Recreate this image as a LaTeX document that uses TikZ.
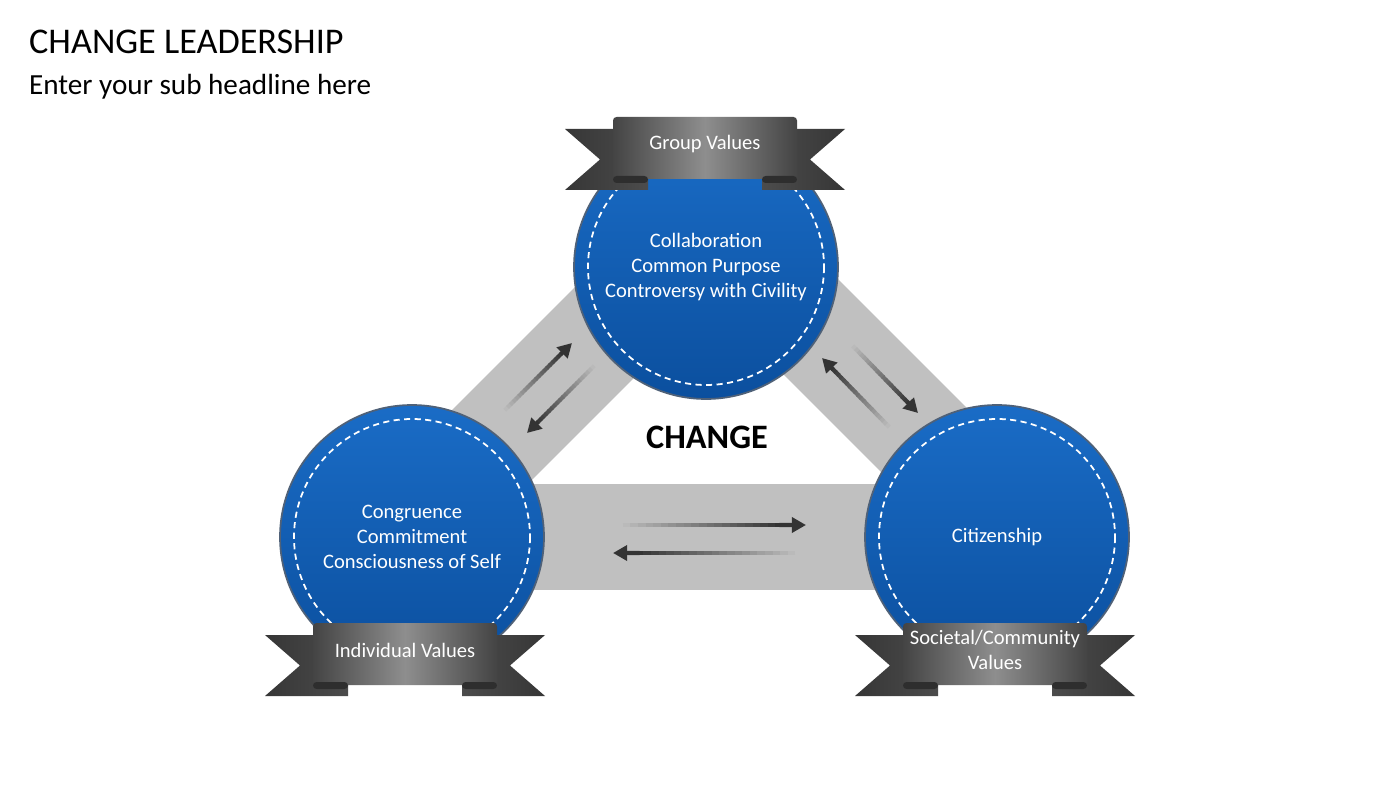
\documentclass[tikz,border=0pt]{standalone}
\usepackage{fontspec}
\setmainfont{Carlito}
\usetikzlibrary{arrows.meta,calc,positioning}

\definecolor{bandgray}{HTML}{C0C0C0}
\definecolor{disctop}{HTML}{1A6CC6}
\definecolor{discbot}{HTML}{0B4F9E}
\definecolor{discedge}{HTML}{4F6178}
\definecolor{ribbonedge}{HTML}{444444}
\definecolor{ribbonmid}{HTML}{8E8E8E}
\definecolor{wingdark}{HTML}{363636}
\definecolor{wingmid}{HTML}{4C4C4C}
\definecolor{folddark}{HTML}{2E2E2E}
\definecolor{arrowdark}{HTML}{333333}

\tikzset{
  bandline/.style={bandgray, line width=2.12cm},
  disc/.style={circle, minimum size=5.28cm, inner sep=0pt, top color=disctop,
    bottom color=discbot, draw=discedge, line width=1pt, text=white,
    align=center, font=\fontsize{11.7}{14.2}\selectfont},
  ring/.style={white, line width=1pt, dash pattern=on 3.5pt off 2.5pt},
  ribbontext/.style={text=white, align=center, font=\fontsize{11.7}{14}\selectfont},
  fadetip/.style={arrowdark, line width=2.4pt, -{Triangle[length=8pt,width=8.5pt]}},
}

% ribbon banner: name, x centre, y top, text
\newcommand{\ribbon}[4]{%
  \begin{scope}[shift={(#2,#3)}]
    \shade[left color=wingdark, right color=wingmid] (-140,12) -- (-57,12) -- (-57,73) -- (-140,73) -- (-105,42.5) -- cycle;
    \shade[left color=wingmid, right color=wingdark] (140,12) -- (57,12) -- (57,73) -- (140,73) -- (105,42.5) -- cycle;
    \shade[left color=ribbonedge, right color=ribbonedge, middle color=ribbonmid, rounded corners=2pt] (-92,0) rectangle (92,62);
    \fill[folddark, rounded corners=2pt] (-92,59) rectangle (-57,66);
    \fill[folddark, rounded corners=2pt] (57,59) rectangle (92,66);
    \node[ribbontext] (#1) at (0,27) {#4};
  \end{scope}}

% shaft fading into the band, solid tip
\newcommand{\fadearrow}[2]{%
  \foreach \k in {0,...,21}{%
    \pgfmathtruncatemacro{\arrtone}{100*\k/21}%
    \draw[line width=2.4pt, arrowdark!\arrtone!bandgray] ($(#1)!\k/25!(#2)$) -- ($(#1)!\k/25+0.05!(#2)$);
  }%
  \draw[fadetip] ($(#1)!0.86!(#2)$) -- (#2);
}

\begin{document}
\begin{tikzpicture}[x=0.02cm, y=-0.02cm]
  \useasboundingbox[fill=white] (0,0) rectangle (1400,787);

  \node[anchor=west, font=\fontsize{20.6}{24}\selectfont] (title) at (23,42) {CHANGE LEADERSHIP};
  \node[anchor=west, font=\fontsize{16.6}{20}\selectfont] (subtitle) at (23,87) {Enter your sub headline here};

  % band ends
  \coordinate (lbA) at (400,537);
  \coordinate (lbB) at (680,257);
  \coordinate (rbA) at (730,246);
  \coordinate (rbB) at (1010,526);

  \draw[bandline] (lbA) -- (lbB);
  \draw[bandline] (rbA) -- (rbB);
  \draw[bandline] (412,537) -- (997,537);

  \node[disc] (grp) at (706,267) {Collaboration\\Common Purpose\\Controversy with Civility};
  \node[disc] (ind) at (412,537) {Congruence\\Commitment\\Consciousness of Self};
  \node[disc] (cit) at (997,537) {Citizenship};
  \foreach \c in {grp,ind,cit}
    \draw[ring] (\c.center) circle (118);

  \ribbon{grpval}{705}{117}{Group Values}
  \ribbon{indval}{405}{623}{Individual Values}
  \ribbon{socval}{995}{623}{Societal/Community\\Values}

  \node[font=\bfseries\fontsize{19.5}{22}\selectfont] (change) at (707,437) {CHANGE};

  % arrows along the bands
  \coordinate (lu1) at (502,413); \coordinate (lu2) at (572,343);
  \coordinate (ld1) at (597,363); \coordinate (ld2) at (527,433);
  \coordinate (ru1) at (892,430); \coordinate (ru2) at (822,358);
  \coordinate (rd1) at (850,343); \coordinate (rd2) at (918,413);
  \coordinate (br1) at (615,525); \coordinate (br2) at (806,525);
  \coordinate (bl1) at (803,553); \coordinate (bl2) at (613,553);
  \fadearrow{lu1}{lu2}
  \fadearrow{ld1}{ld2}
  \fadearrow{ru1}{ru2}
  \fadearrow{rd1}{rd2}
  \fadearrow{br1}{br2}
  \fadearrow{bl1}{bl2}
\end{tikzpicture}
\end{document}
